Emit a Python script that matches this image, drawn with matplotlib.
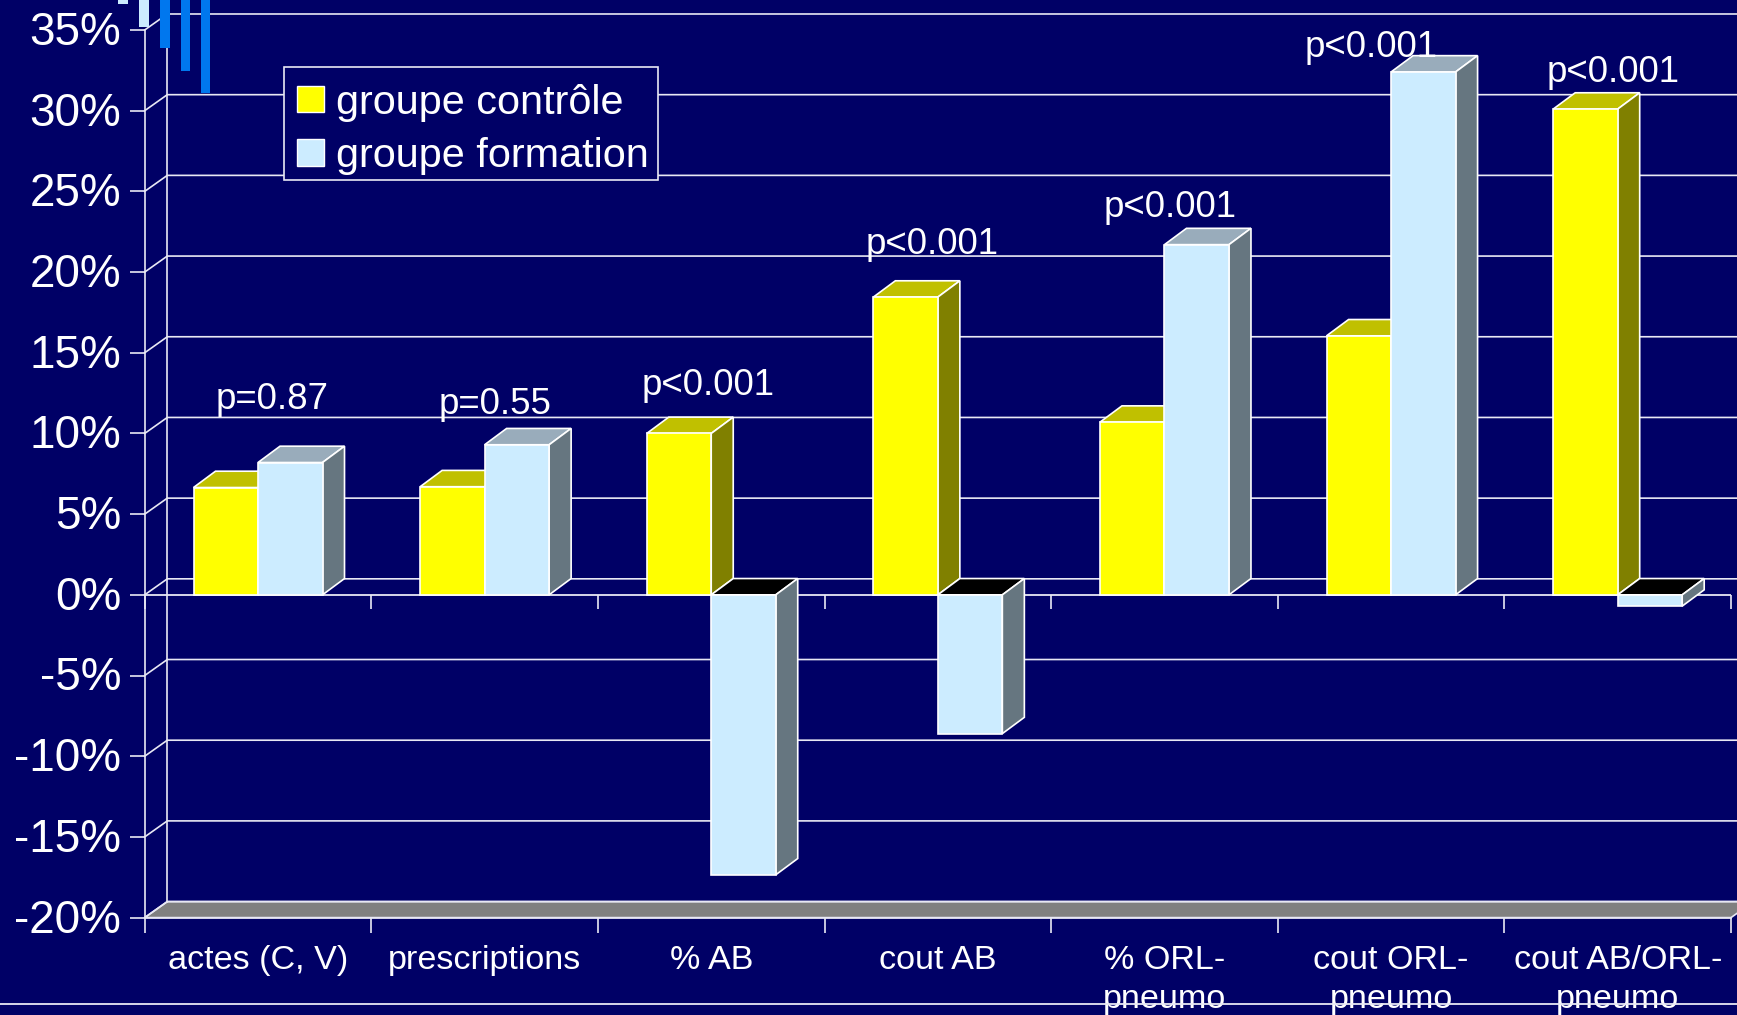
import matplotlib
matplotlib.use("Agg")
import matplotlib.pyplot as plt
from matplotlib.patches import Polygon, Rectangle, Patch
from matplotlib.transforms import ScaledTranslation

W, H = 1737, 1015
BG = "#000066"
LINE = "#E8E8F4"

categories = ["actes (C, V)", "prescriptions", "% AB", "cout AB",
              "% ORL-\npneumo", "cout ORL-\npneumo", "cout AB/ORL-\npneumo"]
controle = [6.65, 6.7, 10.0, 18.45, 10.7, 16.05, 30.1]
formation = [8.2, 9.3, -17.35, -8.6, 21.7, 32.4, -0.7]
p_labels = ["p=0.87", "p=0.55", "p<0.001", "p<0.001", "p<0.001", "p<0.001", "p<0.001"]
p_x = [0.562, 1.545, 2.484, 3.476, 4.523, 5.412, 6.478]
p_y = [12.12, 11.79, 12.95, 21.72, 23.99, 33.92, 32.36]
y_ticks = [35, 30, 25, 20, 15, 10, 5, 0, -5, -10, -15, -20]
y_labels = [f"{v}%" for v in y_ticks]

plt.rcParams["font.family"] = ["Liberation Sans", "DejaVu Sans"]
fig = plt.figure(figsize=(W / 100, H / 100), dpi=100, facecolor=BG)

L, R, T, B = 144.7, 1731.0, 30.0, 917.6
ax = fig.add_axes([L / W, 1 - B / H, (R - L) / W, (B - T) / H], facecolor="none")
ax.set_xlim(0, 7)
ax.set_ylim(-20, 35)

# template decoration at the top left
for x0, w, y1, c in [(118, 9.5, 4, "#CCECFF"), (139, 9.5, 26.7, "#CCECFF"),
                     (160, 9.5, 47.7, "#0077EE"), (180.5, 9.5, 71, "#0077EE"),
                     (200.5, 9.5, 92.7, "#0077EE")]:
    fig.add_artist(Rectangle((x0 / W, 1 - y1 / H), w / W, y1 / H, transform=fig.transFigure,
                             facecolor=c, edgecolor="none", zorder=0.5))
fig.add_artist(plt.Line2D([0, 1], [1 - 1004 / H] * 2, transform=fig.transFigure,
                          color=LINE, lw=1.3, zorder=5))

# depth of the 3D effect, in data units
wall_dx, wall_dy = 22.6 / 226.6, 16.0 / 16.13
bar_dx, bar_dy = 22.0 / 226.6, 16.3 / 16.13
bar_w = 64.5 / 226.6

# walls and floor
ax.add_patch(Polygon([(0, -20), (wall_dx, -20 + wall_dy), (7 + wall_dx, -20 + wall_dy), (7, -20)],
                     closed=True, facecolor="#808080", edgecolor=LINE, lw=1.2, clip_on=False, zorder=1))
for v in y_ticks:
    ax.plot([0, wall_dx, 7 + wall_dx], [v, v + wall_dy, v + wall_dy], color=LINE, lw=1.2,
            clip_on=False, zorder=1, solid_joinstyle="miter")
ax.plot([wall_dx, wall_dx], [-20 + wall_dy, 35 + wall_dy], color=LINE, lw=1.2, clip_on=False, zorder=1)
ax.plot([0, 7], [0, 0], color=LINE, lw=1.3, zorder=1.5)
ax.vlines(range(0, 8), -0.87, 0, color=LINE, lw=1.2, zorder=1.5, clip_on=False)


def bar3d(x0, v, front, top, side, z):
    ax.bar(x0, v, width=bar_w, align="edge", color=front, edgecolor="white", lw=1.2, zorder=z + 0.2)
    x1 = x0 + bar_w
    up = max(v, 0)
    ax.add_patch(Polygon([(x0, up), (x0 + bar_dx, up + bar_dy), (x1 + bar_dx, up + bar_dy), (x1, up)],
                         closed=True, facecolor="black" if v < 0 else top, edgecolor="white", lw=1.2, zorder=z + 0.1))
    ax.add_patch(Polygon([(x1, up), (x1 + bar_dx, up + bar_dy), (x1 + bar_dx, min(v, 0) + bar_dy), (x1, min(v, 0))],
                         closed=True, facecolor=side, edgecolor="white", lw=1.2, zorder=z + 0.1))


for i, (a, b) in enumerate(zip(controle, formation)):
    c = i + 0.5
    bar3d(c - bar_w, a, "#FFFF00", "#C0C000", "#808000", 2 + i * 0.01)
    bar3d(c, b, "#CCECFF", "#99ACBB", "#667680", 2.5 + i * 0.01)

for x, y, s in zip(p_x, p_y, p_labels):
    ax.text(x, y, s, color="white", fontsize=26.4, ha="center", va="center", zorder=4)

for s in ["top", "right"]:
    ax.spines[s].set_visible(False)
for s in ["left", "bottom"]:
    ax.spines[s].set_color(LINE)
    ax.spines[s].set_linewidth(1.2)
ax.set_yticks(y_ticks, y_labels)
ax.set_xticks(range(0, 8), [""] * 8)
ax.set_xticks([i + 0.5 for i in range(7)], categories, minor=True)
ax.tick_params(axis="y", colors=LINE, labelcolor="white", labelsize=33, length=10.8, width=1.2, pad=6)
ax.tick_params(axis="x", which="major", colors=LINE, length=10.5, width=1.2)
ax.tick_params(axis="x", which="minor", length=0, labelcolor="white", labelsize=24.6, pad=19.8)
for t in ax.get_xticklabels(minor=True):
    t.set_linespacing(1.34)
    t.set_clip_on(False)
up_shift = ScaledTranslation(0, 1.5 / 72, fig.dpi_scale_trans)
for t in ax.get_yticklabels():
    t.set_transform(t.get_transform() + up_shift)

ax.add_patch(Rectangle((283.6 / W, 1 - 180 / H), 374.4 / W, 112.7 / H, transform=fig.transFigure,
                       facecolor=BG, edgecolor=LINE, lw=1.2, clip_on=False, zorder=5.9))
leg = ax.legend(handles=[Patch(facecolor="#FFFF00", edgecolor="white", label="groupe contrôle"),
                         Patch(facecolor="#CCECFF", edgecolor="white", label="groupe formation")],
                loc="upper left", bbox_to_anchor=(297 / W, 1 - 83.5 / H), bbox_transform=fig.transFigure,
                fontsize=29.8, labelcolor="white", frameon=False,
                handlelength=0.65, handleheight=0.6, handletextpad=0.29, labelspacing=0.38,
                borderpad=0, borderaxespad=0)
leg.set_zorder(6)

fig.savefig("out.png", dpi=100, facecolor=BG)
